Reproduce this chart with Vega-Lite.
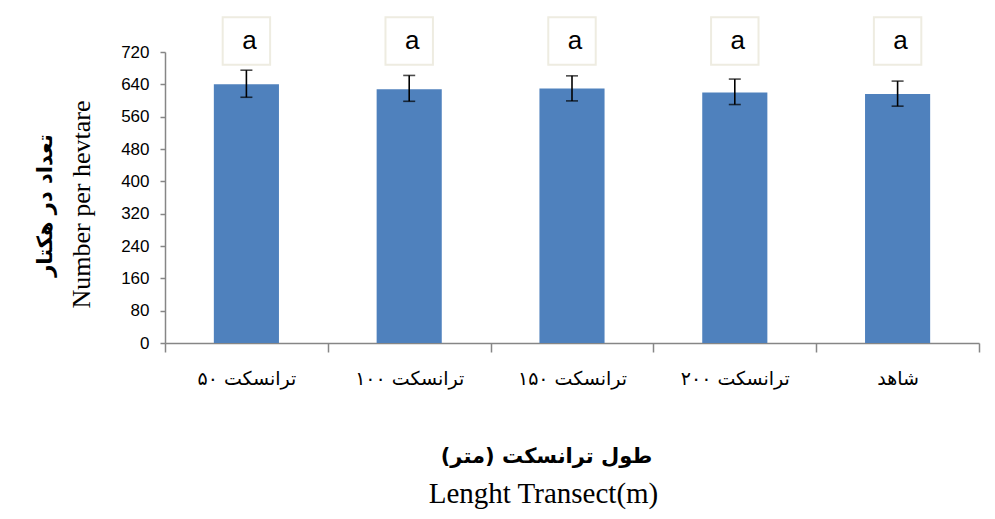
{
  "$schema": "https://vega.github.io/schema/vega-lite/v6.json",
  "width": 814,
  "height": 291,
  "autosize": {"type": "none"},
  "padding": {"left": 165, "top": 52, "right": 16, "bottom": 176},
  "background": "white",
  "config": {"view": {"stroke": null}, "axis": {"grid": false}},
  "data": {
    "values": [
      {"cat": "ترانسکت ۵۰", "mean": 640, "lo": 608, "hi": 675, "label": "a"},
      {"cat": "ترانسکت ۱۰۰", "mean": 628, "lo": 598, "hi": 662, "label": "a"},
      {"cat": "ترانسکت ۱۵۰", "mean": 630, "lo": 599, "hi": 661, "label": "a"},
      {"cat": "ترانسکت ۲۰۰", "mean": 620, "lo": 590, "hi": 653, "label": "a"},
      {"cat": "شاهد", "mean": 616, "lo": 586, "hi": 648, "label": "a"}
    ]
  },
  "resolve": {"scale": {"x": "independent", "y": "independent"}},
  "layer": [
    {
      "resolve": {"scale": {"y": "independent"}},
      "encoding": {
        "x": {
          "field": "cat", "type": "nominal", "sort": null,
          "scale": {"paddingInner": 0, "paddingOuter": 0},
          "axis": {
            "title": "طول ترانسکت (متر)",
            "titleFont": "DejaVu Sans", "titleFontWeight": "bold", "titleFontSize": 21, "titleColor": "black",
            "titleX": 381, "titleY": 119, "titleBaseline": "alphabetic", "titleAlign": "center",
            "labelAngle": 0, "labelFont": "DejaVu Sans", "labelFontSize": 19, "labelColor": "black",
            "labelPadding": 17, "labelBaseline": "top",
            "tickBand": "extent", "tickSize": 9, "tickWidth": 1.5, "tickColor": "#868686",
            "domainColor": "#868686", "domainWidth": 1.5
          }
        }
      },
      "layer": [
        {
          "mark": {"type": "bar", "color": "#4F81BD", "width": {"band": 0.4}},
          "encoding": {
            "y": {
              "field": "mean", "type": "quantitative",
              "scale": {"domain": [0, 720], "nice": false},
              "axis": {
                "orient": "left",
                "values": [0, 80, 160, 240, 320, 400, 480, 560, 640, 720],
                "labelOverlap": false, "labelFlush": false,
                "title": "Number per hevtare",
                "titleFont": "Liberation Serif", "titleFontSize": 26, "titleFontWeight": "normal", "titleColor": "black",
                "titleX": -76, "titleY": 152, "titleAngle": -90, "titleBaseline": "alphabetic", "titleAlign": "center",
                "labelFont": "Liberation Sans", "labelFontSize": 17, "labelColor": "black", "labelPadding": 11,
                "tickSize": 5, "tickWidth": 1.5, "tickColor": "#868686",
                "domainColor": "#868686", "domainWidth": 1.5
              }
            }
          }
        },
        {
          "encoding": {
            "y": {"field": "lo", "type": "quantitative", "scale": {"domain": [0, 720], "nice": false}, "axis": null}
          },
          "layer": [
            {
              "mark": {"type": "rule", "color": "black", "strokeWidth": 1.6},
              "encoding": {"y2": {"field": "hi"}}
            },
            {
              "mark": {"type": "tick", "color": "black", "thickness": 1.6, "size": 12, "orient": "horizontal"}
            }
          ]
        },
        {
          "mark": {"type": "tick", "color": "black", "thickness": 1.6, "size": 12, "orient": "horizontal"},
          "encoding": {"y": {"field": "hi", "type": "quantitative", "scale": {"domain": [0, 720], "nice": false}, "axis": null}}
        }
      ]
    },
    {
      "encoding": {
        "x": {
          "field": "cat", "type": "nominal", "sort": null,
          "scale": {"paddingInner": 0, "paddingOuter": 0},
          "axis": {
            "orient": "bottom",
            "title": "Lenght Transect(m)",
            "titleFont": "Liberation Serif", "titleFontSize": 29, "titleFontWeight": "normal", "titleColor": "black",
            "titleX": 378, "titleY": 159, "titleBaseline": "alphabetic", "titleAlign": "center",
            "labels": false, "ticks": false, "domain": false
          }
        },
        "y": {
          "datum": 747, "type": "quantitative",
          "scale": {"domain": [0, 720], "nice": false},
          "axis": {
            "orient": "left",
            "title": "تعداد در هکتار",
            "titleFont": "DejaVu Sans", "titleFontSize": 21, "titleFontWeight": "bold", "titleColor": "black",
            "titleX": -120, "titleY": 153, "titleAngle": -90, "titleBaseline": "middle", "titleAlign": "center",
            "labels": false, "ticks": false, "domain": false
          }
        }
      },
      "layer": [
        {
          "mark": {"type": "point", "shape": "square", "filled": true, "fill": "white", "stroke": "#EEECE1", "strokeWidth": 2, "size": 2250, "opacity": 1}
        },
        {
          "mark": {"type": "text", "font": "Liberation Sans", "fontSize": 26, "color": "black", "dx": 3, "baseline": "middle"},
          "encoding": {"text": {"field": "label"}}
        }
      ]
    }
  ]
}
